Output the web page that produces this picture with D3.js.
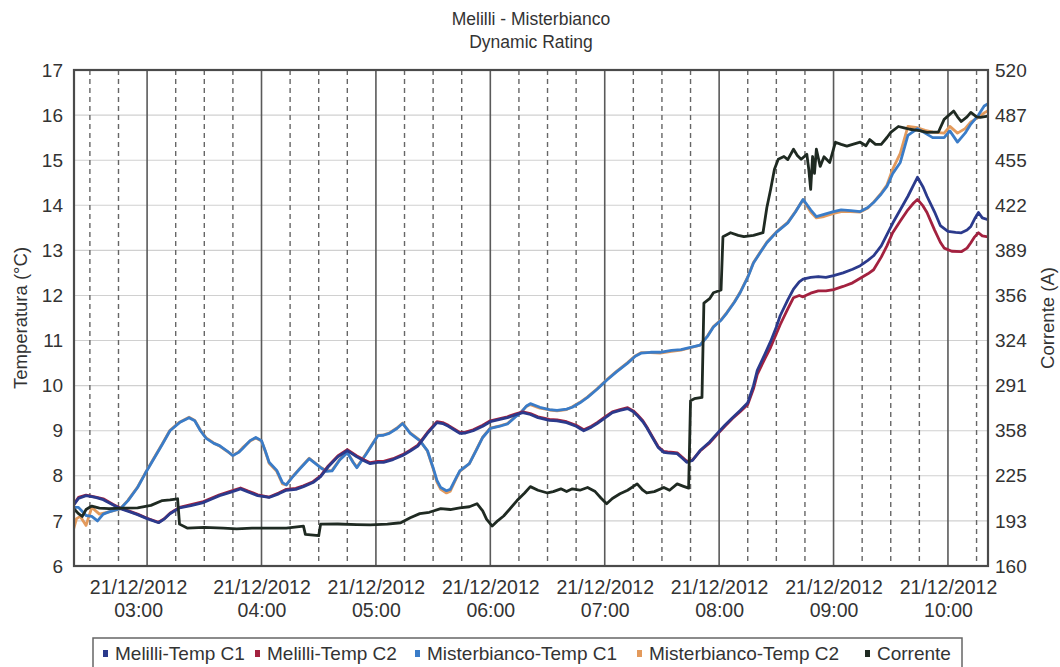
<!DOCTYPE html>
<html><head><meta charset="utf-8">
<script src="https://cdn.jsdelivr.net/npm/d3@7"></script>
<style>
body{margin:0;background:#fff;}
svg{display:block;font-family:"Liberation Sans",Arial,sans-serif;}
</style></head>
<body><svg id="chart" width="1060" height="667"></svg>
<script>
const titleLines = ["Melilli - Misterbianco", "Dynamic Rating"];
const seriesNames = ["Melilli-Temp C1", "Melilli-Temp C2", "Misterbianco-Temp C1", "Misterbianco-Temp C2", "Corrente"];
const leftTicks = [6,7,8,9,10,11,12,13,14,15,16,17];
const rightTickLabels = ["160","193","225","358","291","324","356","389","422","455","487","520"];
const hourTicks = ["03:00","04:00","05:00","06:00","07:00","08:00","09:00","10:00"];
const dateLabel = "21/12/2012";

const melilliC1 = [
["02:21",7.32],["02:24",7.5],["02:28",7.56],["02:33",7.52],["02:37",7.47],["02:42",7.36],["02:46",7.27],["02:51",7.2],["02:55",7.14],["03:00",7.05],["03:06",6.96],["03:09",7.04],["03:12",7.16],["03:17",7.29],["03:23",7.34],["03:29",7.4],["03:33",7.47],["03:38",7.56],["03:44",7.64],["03:49",7.71],["03:53",7.64],["03:58",7.56],["04:04",7.52],["04:09",7.6],["04:13",7.68],["04:18",7.7],["04:22",7.76],["04:27",7.85],["04:31",7.98],["04:35",8.2],["04:40",8.42],["04:45",8.56],["04:50",8.42],["04:54",8.33],["04:57",8.27],["05:01",8.3],["05:04",8.3],["05:09",8.36],["05:14",8.45],["05:18",8.55],["05:22",8.66],["05:27",8.94],["05:32",9.18],["05:35",9.16],["05:38",9.1],["05:44",8.94],["05:47",8.95],["05:51",9.0],["05:56",9.1],["06:00",9.2],["06:05",9.25],["06:09",9.29],["06:13",9.35],["06:17",9.4],["06:21",9.36],["06:25",9.29],["06:31",9.23],["06:35",9.22],["06:40",9.18],["06:45",9.1],["06:49",9.0],["06:53",9.08],["06:56",9.16],["07:00",9.28],["07:04",9.4],["07:08",9.45],["07:12",9.49],["07:15",9.42],["07:17",9.34],["07:20",9.2],["07:22",9.07],["07:25",8.85],["07:28",8.63],["07:31",8.52],["07:33",8.51],["07:36",8.5],["07:38",8.49],["07:41",8.38],["07:43",8.3],["07:46",8.34],["07:50",8.56],["07:55",8.75],["07:59",8.94],["08:03",9.12],["08:07",9.29],["08:11",9.45],["08:15",9.62],["08:18",10.0],["08:20",10.34],["08:24",10.7],["08:27",10.98],["08:30",11.3],["08:32",11.55],["08:36",11.9],["08:39",12.14],["08:42",12.3],["08:44",12.36],["08:48",12.4],["08:52",12.42],["08:56",12.4],["09:00",12.44],["09:05",12.5],["09:10",12.58],["09:14",12.66],["09:18",12.78],["09:21",12.88],["09:25",13.1],["09:28",13.35],["09:31",13.6],["09:35",13.9],["09:39",14.2],["09:42",14.45],["09:44",14.62],["09:47",14.4],["09:49",14.2],["09:53",13.85],["09:56",13.55],["10:00",13.42],["10:04",13.4],["10:07",13.39],["10:10",13.45],["10:12",13.53],["10:14",13.7],["10:16",13.84],["10:18",13.72],["10:21",13.68]
];

const melilliC2 = [
["02:21",7.33],["02:24",7.52],["02:28",7.57],["02:33",7.53],["02:37",7.49],["02:42",7.37],["02:46",7.28],["02:51",7.21],["02:55",7.15],["03:00",7.06],["03:06",6.97],["03:09",7.05],["03:12",7.17],["03:17",7.3],["03:23",7.36],["03:29",7.42],["03:33",7.49],["03:38",7.58],["03:44",7.66],["03:49",7.73],["03:53",7.66],["03:58",7.58],["04:04",7.53],["04:09",7.62],["04:13",7.7],["04:18",7.72],["04:22",7.78],["04:27",7.87],["04:31",8.0],["04:35",8.22],["04:40",8.44],["04:45",8.58],["04:50",8.44],["04:54",8.35],["04:57",8.29],["05:01",8.32],["05:04",8.32],["05:09",8.38],["05:14",8.47],["05:18",8.57],["05:22",8.68],["05:27",8.96],["05:32",9.2],["05:35",9.18],["05:38",9.12],["05:44",8.96],["05:47",8.97],["05:51",9.02],["05:56",9.12],["06:00",9.22],["06:05",9.27],["06:09",9.31],["06:13",9.37],["06:17",9.42],["06:21",9.38],["06:25",9.31],["06:31",9.25],["06:35",9.24],["06:40",9.2],["06:45",9.12],["06:49",9.02],["06:53",9.1],["06:56",9.18],["07:00",9.3],["07:04",9.42],["07:08",9.47],["07:12",9.51],["07:15",9.44],["07:17",9.36],["07:20",9.22],["07:22",9.09],["07:25",8.87],["07:28",8.65],["07:31",8.54],["07:33",8.53],["07:36",8.52],["07:38",8.51],["07:41",8.4],["07:43",8.32],["07:46",8.35],["07:50",8.55],["07:55",8.73],["07:59",8.92],["08:03",9.1],["08:07",9.27],["08:11",9.42],["08:15",9.58],["08:18",9.93],["08:20",10.25],["08:24",10.6],["08:27",10.85],["08:30",11.15],["08:32",11.35],["08:36",11.7],["08:39",11.95],["08:42",12.0],["08:44",11.97],["08:48",12.05],["08:52",12.1],["08:56",12.1],["09:00",12.13],["09:05",12.2],["09:10",12.28],["09:14",12.38],["09:18",12.48],["09:21",12.57],["09:25",12.85],["09:28",13.1],["09:31",13.39],["09:35",13.65],["09:39",13.9],["09:42",14.05],["09:44",14.13],["09:47",13.98],["09:49",13.84],["09:53",13.45],["09:56",13.18],["09:58",13.05],["10:02",12.98],["10:07",12.97],["10:10",13.05],["10:12",13.17],["10:14",13.3],["10:16",13.39],["10:18",13.32],["10:21",13.3]
];

const misterbiancoC1 = [
["02:21",7.3],["02:24",7.3],["02:28",7.12],["02:31",7.1],["02:34",7.0],["02:37",7.15],["02:40",7.2],["02:46",7.27],["02:50",7.45],["02:55",7.74],["02:59",8.05],["03:03",8.34],["03:08",8.7],["03:12",9.0],["03:17",9.18],["03:22",9.29],["03:25",9.22],["03:28",9.0],["03:31",8.83],["03:35",8.72],["03:38",8.67],["03:42",8.55],["03:45",8.45],["03:48",8.52],["03:50",8.6],["03:54",8.78],["03:57",8.85],["04:00",8.78],["04:02",8.55],["04:04",8.3],["04:08",8.12],["04:11",7.85],["04:13",7.8],["04:16",7.96],["04:20",8.15],["04:25",8.38],["04:28",8.28],["04:31",8.18],["04:34",8.1],["04:37",8.11],["04:41",8.35],["04:45",8.51],["04:48",8.3],["04:50",8.18],["04:55",8.49],["05:01",8.89],["05:04",8.9],["05:07",8.94],["05:11",9.05],["05:14",9.16],["05:16",9.05],["05:18",8.94],["05:23",8.78],["05:27",8.56],["05:30",8.18],["05:32",7.9],["05:34",7.74],["05:37",7.67],["05:39",7.7],["05:42",7.95],["05:44",8.11],["05:49",8.27],["05:53",8.6],["05:56",8.85],["06:00",9.05],["06:05",9.1],["06:09",9.15],["06:13",9.3],["06:16",9.4],["06:19",9.55],["06:21",9.6],["06:26",9.52],["06:31",9.47],["06:35",9.45],["06:40",9.48],["06:43",9.52],["06:47",9.62],["06:51",9.74],["06:56",9.92],["07:01",10.12],["07:06",10.3],["07:12",10.5],["07:16",10.65],["07:19",10.72],["07:24",10.74],["07:29",10.74],["07:35",10.78],["07:40",10.8],["07:45",10.85],["07:50",10.9],["07:54",11.1],["07:57",11.3],["08:01",11.45],["08:04",11.61],["08:08",11.85],["08:11",12.06],["08:15",12.4],["08:18",12.72],["08:22",12.98],["08:25",13.17],["08:30",13.4],["08:36",13.61],["08:40",13.85],["08:44",14.13],["08:48",13.9],["08:51",13.75],["08:55",13.8],["09:00",13.86],["09:04",13.9],["09:09",13.88],["09:14",13.86],["09:18",13.95],["09:21",14.06],["09:25",14.25],["09:28",14.42],["09:31",14.7],["09:35",14.95],["09:39",15.55],["09:44",15.7],["09:48",15.6],["09:52",15.5],["09:58",15.5],["10:01",15.65],["10:05",15.4],["10:09",15.6],["10:12",15.8],["10:16",16.0],["10:19",16.2],["10:21",16.25]
];

const misterbiancoC2 = [
["02:21",6.75],["02:23",7.05],["02:25",7.1],["02:28",6.9],["02:31",7.3],["02:35",7.15],["02:40",7.2],["02:46",7.27],["02:50",7.46],["02:55",7.75],["02:59",8.06],["03:03",8.35],["03:08",8.71],["03:12",9.01],["03:17",9.19],["03:22",9.3],["03:25",9.23],["03:28",9.01],["03:31",8.84],["03:35",8.73],["03:38",8.66],["03:42",8.54],["03:45",8.45],["03:48",8.53],["03:50",8.62],["03:54",8.77],["03:57",8.84],["04:00",8.77],["04:02",8.54],["04:04",8.28],["04:08",8.1],["04:11",7.82],["04:13",7.8],["04:16",7.97],["04:20",8.16],["04:25",8.39],["04:28",8.29],["04:31",8.19],["04:34",8.11],["04:37",8.12],["04:41",8.36],["04:45",8.52],["04:48",8.31],["04:50",8.19],["04:55",8.5],["05:01",8.9],["05:04",8.91],["05:07",8.95],["05:11",9.06],["05:14",9.17],["05:16",9.06],["05:18",8.95],["05:23",8.79],["05:27",8.55],["05:30",8.16],["05:32",7.86],["05:34",7.7],["05:37",7.62],["05:39",7.66],["05:42",7.93],["05:44",8.1],["05:49",8.27],["05:53",8.61],["05:56",8.86],["06:00",9.06],["06:05",9.11],["06:09",9.16],["06:13",9.31],["06:16",9.41],["06:19",9.54],["06:21",9.58],["06:26",9.5],["06:31",9.46],["06:35",9.44],["06:40",9.47],["06:43",9.53],["06:47",9.63],["06:51",9.75],["06:56",9.93],["07:01",10.13],["07:06",10.31],["07:12",10.51],["07:16",10.66],["07:19",10.73],["07:24",10.73],["07:29",10.72],["07:35",10.76],["07:40",10.79],["07:45",10.84],["07:50",10.9],["07:54",11.11],["07:57",11.31],["08:01",11.46],["08:04",11.62],["08:08",11.86],["08:11",12.07],["08:15",12.41],["08:18",12.73],["08:22",12.99],["08:25",13.18],["08:30",13.41],["08:36",13.62],["08:40",13.86],["08:44",14.12],["08:48",13.85],["08:51",13.72],["08:55",13.75],["09:00",13.82],["09:04",13.86],["09:09",13.86],["09:14",13.85],["09:18",13.94],["09:21",14.07],["09:25",14.27],["09:28",14.45],["09:31",14.8],["09:35",15.15],["09:39",15.75],["09:44",15.72],["09:48",15.66],["09:52",15.62],["09:58",15.6],["10:01",15.75],["10:05",15.6],["10:09",15.7],["10:12",15.85],["10:16",15.95],["10:19",16.05],["10:21",16.1]
];

const corrente = [
["02:21",202],["02:22",201],["02:24",198],["02:26",196],["02:28",201],["02:31",203.5],["02:35",202],["02:40",201.6],["02:47",202],["02:55",202.2],["03:02",204],["03:08",207.5],["03:12",208],["03:16",208.8],["03:17",190.4],["03:21",187.5],["03:30",188],["03:40",187.5],["03:47",187],["03:55",187.5],["04:05",187.5],["04:13",187.5],["04:22",189],["04:23",183],["04:30",182],["04:31",190.4],["04:40",190.5],["04:50",190],["04:57",189.8],["05:06",190.4],["05:13",191.4],["05:18",195],["05:23",198],["05:28",199],["05:34",201.6],["05:39",201],["05:44",202.2],["05:49",203],["05:53",205.2],["05:56",200],["05:58",194],["06:01",189],["06:04",193],["06:07",196.3],["06:10",201],["06:14",207.5],["06:18",213],["06:21",217.6],["06:25",215],["06:30",213],["06:33",214],["06:37",216],["06:40",214],["06:43",216],["06:47",215],["06:51",217],["06:55",214],["06:58",209.4],["07:01",205.2],["07:04",209],["07:08",212.4],["07:12",215],["07:17",219.6],["07:20",215],["07:22",213],["07:26",214],["07:31",217],["07:34",215],["07:38",219.6],["07:41",218],["07:44",216.5],["07:45",280],["07:47",281.4],["07:51",282.4],["07:52",350.8],["07:55",354],["07:57",358.3],["08:01",360.3],["08:02",399],["08:06",401.9],["08:10",400],["08:13",399],["08:18",400],["08:23",401.9],["08:25",420],["08:27",433.3],["08:29",448],["08:31",455.2],["08:34",457.2],["08:36",455],["08:39",462.5],["08:41",458],["08:43",455.2],["08:46",458.8],["08:47",448],["08:48",433.3],["08:49",457.2],["08:50",445],["08:51",462.5],["08:53",450],["08:55",457],["08:58",452.9],["09:01",467.6],["09:04",466],["09:07",464.7],["09:10",466],["09:14",467.6],["09:17",465],["09:19",469.5],["09:22",466],["09:25",466],["09:28",471],["09:30",474.7],["09:34",479],["09:37",478],["09:40",477],["09:45",476],["09:49",474.7],["09:55",475],["09:58",484.2],["10:03",490.2],["10:05",486],["10:07",482.6],["10:10",486],["10:12",489.2],["10:15",486],["10:17",485.6],["10:21",486.6]
];

// ---------- drawing ----------
const svg = d3.select("#chart");
const plot = {left: 74, right: 988, top: 70, bottom: 566};
const parse = d3.timeParse("%H:%M");
const t0 = parse("02:21"); t0.setSeconds(40);
const t1 = parse("10:21");

const x = d3.scaleTime().domain([t0, t1]).range([plot.left, plot.right]);
const yL = d3.scaleLinear().domain([6, 17]).range([plot.bottom, plot.top]);
const yR = d3.scaleLinear().domain([160, 520]).range([plot.bottom, plot.top]);

const colors = ["#2b3a8c", "#a3213f", "#3a7cc8", "#e39a5c", "#1f2a22"];
const textColor = "#333";

// title
svg.append("g").selectAll("text").data(titleLines).join("text")
  .attr("x", (plot.left + plot.right) / 2).attr("y", (d, i) => 25 + i * 23)
  .attr("text-anchor", "middle").attr("font-size", 17.5).attr("fill", textColor)
  .text(d => d);

// horizontal grid
const gGrid = svg.append("g");
gGrid.selectAll("line.h").data(leftTicks).join("line")
  .attr("x1", plot.left).attr("x2", plot.right)
  .attr("y1", d => yL(d)).attr("y2", d => yL(d))
  .attr("stroke", "#d0d0d0").attr("stroke-width", 1.1);

// vertical grid: 15-minute dashed, hourly solid
const quarterTicks = x.ticks(d3.timeMinute.every(15));
gGrid.selectAll("line.v").data(quarterTicks).join("line")
  .attr("x1", d => x(d)).attr("x2", d => x(d))
  .attr("y1", plot.top).attr("y2", plot.bottom)
  .attr("stroke", d => d.getMinutes() === 0 ? "#5a5a5a" : "#666")
  .attr("stroke-width", d => d.getMinutes() === 0 ? 1.6 : 1.4)
  .attr("stroke-dasharray", d => d.getMinutes() === 0 ? null : "5,4");

// left axis
const axL = d3.axisLeft(yL).tickValues(leftTicks).tickSize(0).tickPadding(11).tickFormat(d3.format("d"));
const gL = svg.append("g").attr("transform", `translate(${plot.left},0)`).call(axL);
gL.select(".domain").remove();
gL.selectAll("text").attr("font-size", 19).attr("fill", textColor).attr("font-family", "Liberation Sans, Arial, sans-serif");

// right axis
const rightVals = rightTickLabels.map((_, i) => 160 + i * 360 / 11);
const axR = d3.axisRight(yR).tickValues(rightVals).tickSize(0).tickPadding(7)
  .tickFormat((d, i) => rightTickLabels[i]);
const gR = svg.append("g").attr("transform", `translate(${plot.right},0)`).call(axR);
gR.select(".domain").remove();
gR.selectAll("text").attr("font-size", 19).attr("fill", textColor).attr("font-family", "Liberation Sans, Arial, sans-serif");

// axis titles
svg.append("text").attr("transform", `translate(27,${(plot.top + plot.bottom) / 2}) rotate(-90)`)
  .attr("text-anchor", "middle").attr("font-size", 18.5).attr("fill", textColor).text("Temperatura (°C)");
svg.append("text").attr("transform", `translate(1054,${(plot.top + plot.bottom) / 2}) rotate(-90)`)
  .attr("text-anchor", "middle").attr("font-size", 18.5).attr("fill", textColor).text("Corrente (A)");

// x axis labels
const hourDates = hourTicks.map(parse);
const axX = d3.axisBottom(x).tickValues(hourDates).tickSize(0).tickFormat("");
const gX = svg.append("g").attr("transform", `translate(0,${plot.bottom})`).call(axX);
gX.select(".domain").remove();
gX.selectAll(".tick").each(function(d, i) {
  const g = d3.select(this);
  const dx = i === 0 ? -9 : 0;
  g.append("text").attr("x", dx).attr("y", 28).attr("text-anchor", "middle")
    .attr("font-size", 19.5).attr("fill", textColor).text(dateLabel);
  g.append("text").attr("x", dx).attr("y", 51).attr("text-anchor", "middle")
    .attr("font-size", 19.5).attr("fill", textColor).text(hourTicks[i]);
});

// series lines
svg.append("clipPath").attr("id", "clip").append("rect")
  .attr("x", plot.left).attr("y", plot.top).attr("width", plot.right - plot.left).attr("height", plot.bottom - plot.top);
const gLines = svg.append("g").attr("clip-path", "url(#clip)");
const lineL = d3.line().x(d => x(parse(d[0]))).y(d => yL(d[1]));
const lineR = d3.line().x(d => x(parse(d[0]))).y(d => yR(d[1]));
const drawOrder = [
  {data: misterbiancoC2, c: 3, line: lineL},
  {data: misterbiancoC1, c: 2, line: lineL},
  {data: melilliC2, c: 1, line: lineL},
  {data: melilliC1, c: 0, line: lineL},
  {data: corrente, c: 4, line: lineR}
];
drawOrder.forEach(s => {
  gLines.append("path").datum(s.data).attr("d", s.line)
    .attr("fill", "none").attr("stroke", colors[s.c]).attr("stroke-width", 2.8)
    .attr("stroke-linejoin", "round").attr("stroke-linecap", "round");
});

// frame
svg.append("rect").attr("x", plot.left).attr("y", plot.top)
  .attr("width", plot.right - plot.left).attr("height", plot.bottom - plot.top)
  .attr("fill", "none").attr("stroke", "#4a4a4a").attr("stroke-width", 2.2);

// legend
const gLeg = svg.append("g");
gLeg.append("rect").attr("x", 93).attr("y", 638).attr("width", 869).attr("height", 40)
  .attr("fill", "none").attr("stroke", "#666").attr("stroke-width", 1.5);
const legendX = [103, 255, 415, 637, 865];
seriesNames.forEach((name, i) => {
  gLeg.append("rect").attr("x", legendX[i]).attr("y", 650).attr("width", 5).attr("height", 7).attr("fill", colors[i]);
  gLeg.append("text").attr("x", legendX[i] + 12).attr("y", 660).attr("font-size", 19)
    .attr("fill", textColor).text(name);
});
</script></body></html>
